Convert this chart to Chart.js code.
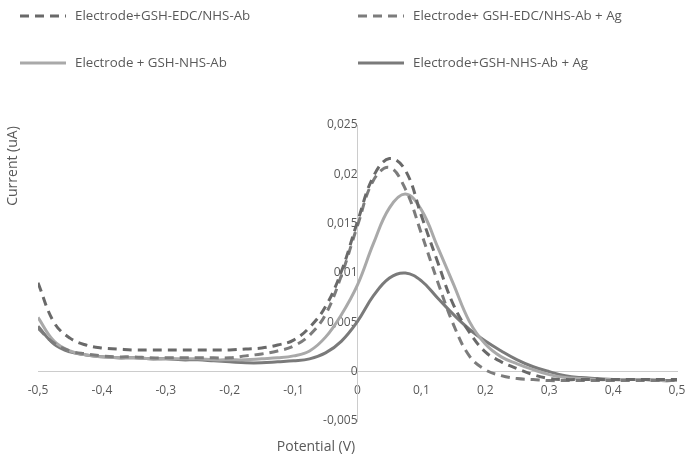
<!DOCTYPE html>
<html>
<head>
<meta charset="utf-8">
<script src="https://cdn.jsdelivr.net/npm/chart.js@4.4.1/dist/chart.umd.min.js"></script>
<style>
html, body { margin: 0; padding: 0; background: #fff; }
#wrap { width: 685px; height: 455px; position: relative; }
</style>
</head>
<body>
<div id="wrap"><canvas id="chart"></canvas></div>
<script>
// potential (V) sample points
const potential = [-0.5, -0.475, -0.45, -0.425, -0.4, -0.375, -0.35, -0.325, -0.3, -0.275,
  -0.25, -0.225, -0.2, -0.175, -0.15, -0.125, -0.1, -0.075, -0.05, -0.025,
  0, 0.025, 0.05, 0.075, 0.1, 0.125, 0.15, 0.175, 0.2, 0.225,
  0.25, 0.275, 0.3, 0.325, 0.35, 0.375, 0.4, 0.425, 0.45, 0.475, 0.5];

// current (uA), one list per curve
const edcAb = [0.0090, 0.0050, 0.0034, 0.0027, 0.0024, 0.0023, 0.0022, 0.0022, 0.0022, 0.0022,
  0.0022, 0.0022, 0.0022, 0.0023, 0.0024, 0.0027, 0.0032, 0.0045, 0.0066, 0.0102,
  0.0152, 0.0198, 0.0216, 0.0204, 0.0158, 0.0112, 0.0068, 0.0040, 0.0020, 0.0010,
  0.0003, -0.0003, -0.0007, -0.0008, -0.0008, -0.0008, -0.0008, -0.0008, -0.0008, -0.0008, -0.0008];
const edcAbAg = [0.0044, 0.0029, 0.0021, 0.0018, 0.0016, 0.0015, 0.0015, 0.0014, 0.0014, 0.0014,
  0.0014, 0.0014, 0.0014, 0.0016, 0.0018, 0.0021, 0.0026, 0.0037, 0.0058, 0.0098,
  0.0148, 0.0194, 0.0207, 0.0185, 0.0140, 0.0092, 0.0048, 0.0016, 0.0002, -0.0004,
  -0.0007, -0.0008, -0.0009, -0.0009, -0.0009, -0.0009, -0.0009, -0.0009, -0.0009, -0.0009, -0.0009];
const nhsAb = [0.0055, 0.0031, 0.0021, 0.0017, 0.0015, 0.0014, 0.0014, 0.0013, 0.0013, 0.0013,
  0.0013, 0.0012, 0.0012, 0.0012, 0.0013, 0.0014, 0.0016, 0.0021, 0.0035, 0.0058,
  0.0088, 0.0130, 0.0166, 0.0180, 0.0164, 0.0127, 0.0089, 0.0051, 0.0028, 0.0015,
  0.0008, 0.0002, -0.0003, -0.0006, -0.0007, -0.0008, -0.0008, -0.0008, -0.0008, -0.0009, -0.0009];
const nhsAbAg = [0.0046, 0.0028, 0.0020, 0.0017, 0.0015, 0.0014, 0.0014, 0.0013, 0.0013, 0.0012,
  0.0012, 0.0011, 0.0010, 0.0009, 0.0009, 0.0010, 0.0011, 0.0013, 0.0019, 0.0031,
  0.0051, 0.0077, 0.0095, 0.0100, 0.0092, 0.0075, 0.0058, 0.0043, 0.0031, 0.0021,
  0.0012, 0.0005, 0.0000, -0.0004, -0.0006, -0.0007, -0.0008, -0.0008, -0.0008, -0.0009, -0.0009];

const seriesNames = ["Electrode+GSH-EDC/NHS-Ab", "Electrode+ GSH-EDC/NHS-Ab + Ag",
  "Electrode + GSH-NHS-Ab", "Electrode+GSH-NHS-Ab + Ag"];

const fontFam = "'Open Sans', sans-serif";
const textCol = '#595959';

function toPoints(vals) {
	return vals.map(function (v, i) { return { x: potential[i], y: v }; });
}

function commaNum(v, dec) {
	let s = String(+v.toFixed(dec));
	if (s === '-0') s = '0';
	return s.replace('.', ',');
}

function mkSet(label, vals, color, dash) {
	return {
		label: label,
		data: toPoints(vals),
		borderColor: color,
		backgroundColor: color,
		borderWidth: 3,
		borderDash: dash,
		pointRadius: 0,
		showLine: true,
		fill: false,
		tension: 0.4
	};
}

// legend in two columns + axis titles, drawn like the spreadsheet
const sheetDeco = {
	id: 'sheetDeco',
	afterDraw(chart) {
		let ctx = chart.ctx;
		ctx.save();
		ctx.font = "13.3px " + fontFam;
		ctx.textBaseline = 'middle';
		chart.data.datasets.forEach(function (ds, i) {
			let col = i % 2;
			let row = Math.floor(i / 2);
			let lx = 20 + col * 338;
			let ly = 16 + row * 47;
			ctx.strokeStyle = ds.borderColor;
			ctx.lineWidth = 3;
			ctx.setLineDash(ds.borderDash || []);
			ctx.beginPath();
			ctx.moveTo(lx, ly);
			ctx.lineTo(lx + 46, ly);
			ctx.stroke();
			ctx.setLineDash([]);
			ctx.fillStyle = textCol;
			ctx.textAlign = 'left';
			ctx.fillText(ds.label, lx + 55, ly);
		});
		ctx.font = "14px " + fontFam;
		ctx.textAlign = 'center';
		ctx.fillText('Potential (V)', 316, 447);
		ctx.translate(13, 166);
		ctx.rotate(-Math.PI / 2);
		ctx.fillText('Current (uA)', 0, 0);
		ctx.restore();
	}
};

function noSpace(s) {
	s.paddingLeft = 0;
	s.paddingRight = 0;
	s.paddingTop = 0;
	s.paddingBottom = 0;
	if (s.isHorizontal()) s.height = 0; else s.width = 0;
}

let ctx = document.getElementById('chart').getContext('2d');
let chart = new Chart(ctx, {
	type: 'scatter',
	data: {
		datasets: [
			mkSet(seriesNames[0], edcAb, '#696969', [9, 6]),
			mkSet(seriesNames[1], edcAbAg, '#7c7c7c', [9, 6]),
			mkSet(seriesNames[2], nhsAb, '#a9a9a9', []),
			mkSet(seriesNames[3], nhsAbAg, '#7a7a7a', [])
		]
	},
	options: {
		responsive: true,
		maintainAspectRatio: false,
		animation: false,
		layout: { padding: { left: 38, right: 8, top: 125, bottom: 34 } },
		plugins: {
			legend: { display: false },
			tooltip: { enabled: false }
		},
		scales: {
			x: {
				type: 'linear',
				min: -0.5,
				max: 0.5,
				position: { y: 0 },
				grid: { display: false, drawTicks: false },
				border: { display: true, color: '#cccccc', width: 1 },
				ticks: {
					stepSize: 0.1,
					padding: 12,
					color: textCol,
					maxRotation: 0,
					font: { family: fontFam, size: 12 },
					callback: function (v) { return commaNum(v, 1); }
				},
				afterFit: noSpace
			},
			y: {
				type: 'linear',
				min: -0.005,
				max: 0.025,
				position: { x: 0 },
				grid: { display: false, drawTicks: false },
				border: { display: true, color: '#cccccc', width: 1 },
				ticks: {
					stepSize: 0.005,
					padding: 8,
					color: textCol,
					font: { family: fontFam, size: 12 },
					callback: function (v) { return commaNum(v, 3); }
				},
				afterFit: noSpace
			}
		}
	},
	plugins: [sheetDeco]
});
</script>
</body>
</html>
